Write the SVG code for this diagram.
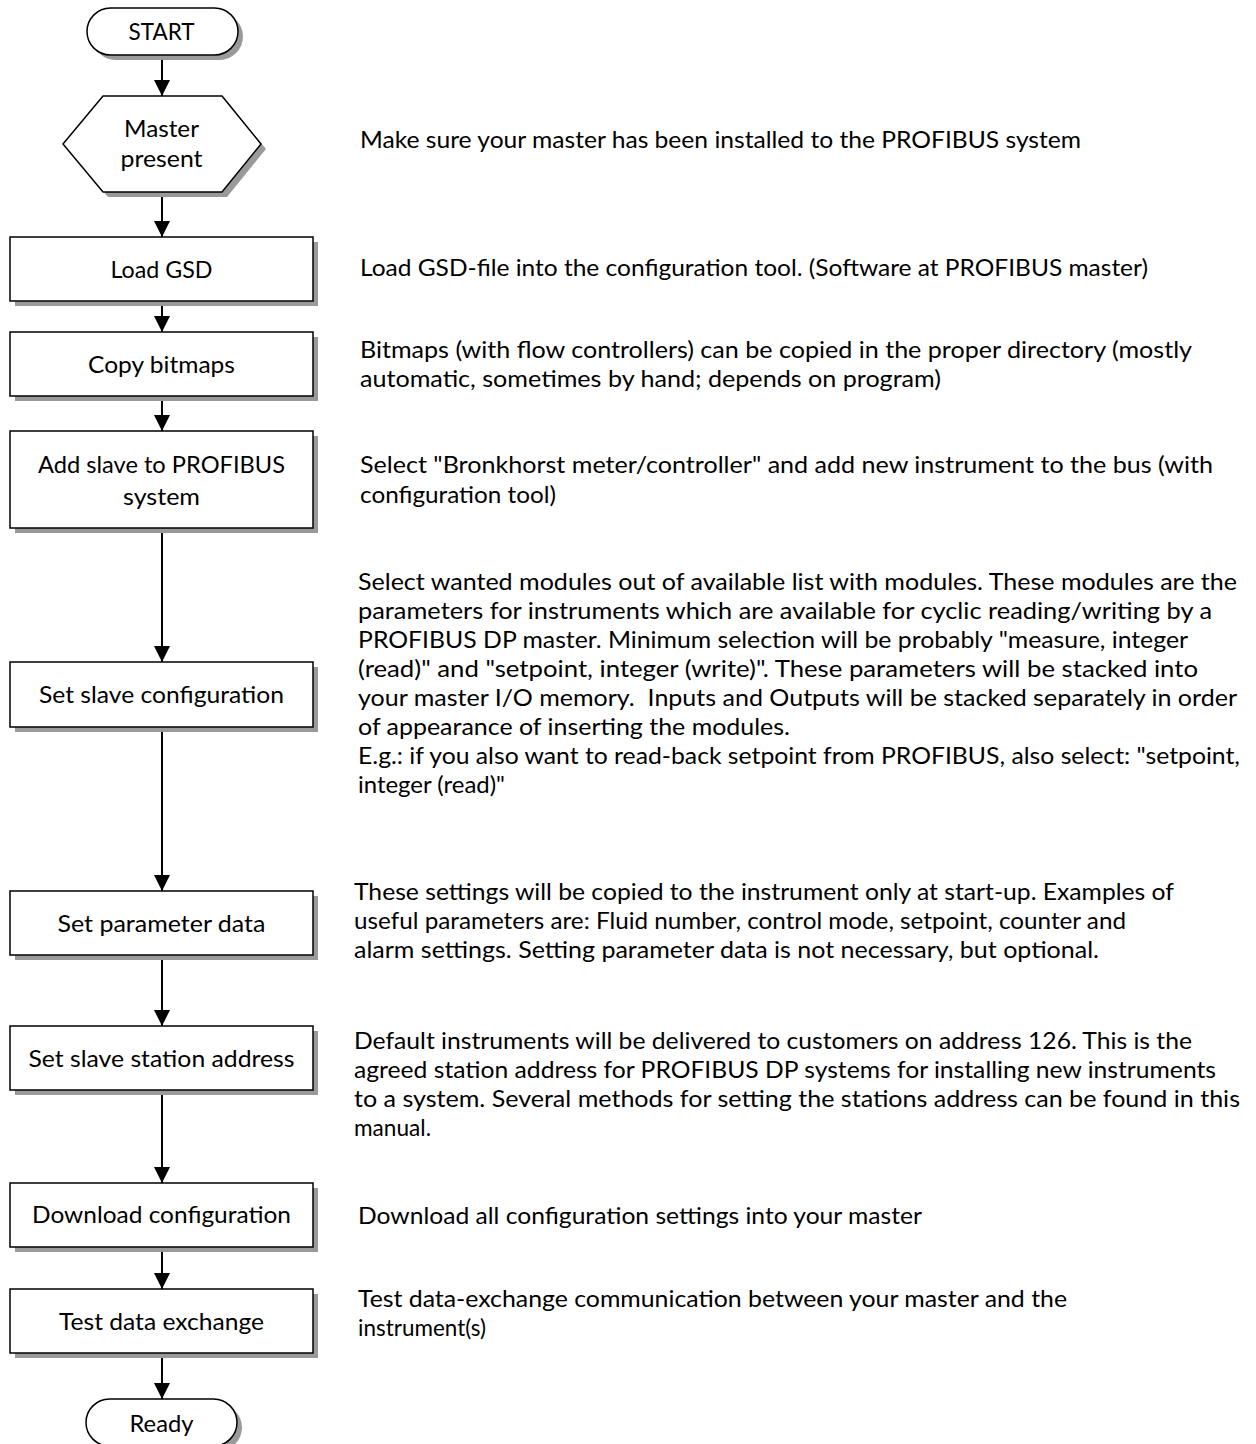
<svg xmlns="http://www.w3.org/2000/svg" width="1256" height="1444" viewBox="0 0 1256 1444">
<style>
.sh{fill:#9a9a9a;stroke:none}
.nd{fill:#ffffff;stroke:#000;stroke-width:1.5}
.lb{font-family:Lato,"Open Sans",sans-serif;font-size:23px;fill:#000;text-anchor:middle}
.tx{font-family:Lato,"Open Sans",sans-serif;font-size:23px;fill:#000}
.cn{stroke:#000;stroke-width:2;fill:none;marker-end:url(#ah)}
</style>
<defs>
<marker id="ah" markerUnits="userSpaceOnUse" markerWidth="16" markerHeight="16" refX="16" refY="8" orient="auto" viewBox="0 0 16 16">
<path d="M0,0 L16,8 L0,16 z" fill="#000"/>
</marker>
</defs>
<rect width="1256" height="1444" fill="#fff"/>
<g id="connectors">
<line class="cn" x1="162" y1="55" x2="162" y2="96"/>
<line class="cn" x1="162" y1="192" x2="162" y2="237"/>
<line class="cn" x1="162" y1="301" x2="162" y2="332"/>
<line class="cn" x1="162" y1="396" x2="162" y2="431"/>
<line class="cn" x1="162" y1="528" x2="162" y2="662"/>
<line class="cn" x1="162" y1="727" x2="162" y2="891"/>
<line class="cn" x1="162" y1="955" x2="162" y2="1026"/>
<line class="cn" x1="162" y1="1090" x2="162" y2="1183"/>
<line class="cn" x1="162" y1="1247" x2="162" y2="1289"/>
<line class="cn" x1="162" y1="1353" x2="162" y2="1399"/>
</g>
<g id="start">
<rect class="sh" x="92" y="13" width="151" height="47" rx="23.5"/>
<rect class="nd" x="87" y="8" width="151" height="47" rx="23.5"/>
<text class="lb" x="161.5" y="40" textLength="66" lengthAdjust="spacingAndGlyphs">START</text>
</g>
<g id="master-present">
<polygon class="sh" points="68,149 108,101 227,101 266,149 227,197 108,197"/>
<polygon class="nd" points="63,144 103,96 222,96 261,144 222,192 103,192"/>
<text class="lb" x="161.5" y="137" textLength="75" lengthAdjust="spacingAndGlyphs">Master</text>
<text class="lb" x="161.5" y="167" textLength="82" lengthAdjust="spacingAndGlyphs">present</text>
</g>
<g id="load-gsd">
<rect class="sh" x="15" y="242" width="303" height="64"/>
<rect class="nd" x="10" y="237" width="303" height="64"/>
<text class="lb" x="161.5" y="278" textLength="102" lengthAdjust="spacingAndGlyphs">Load GSD</text>
</g>
<g id="copy-bitmaps">
<rect class="sh" x="15" y="337" width="303" height="64"/>
<rect class="nd" x="10" y="332" width="303" height="64"/>
<text class="lb" x="161.5" y="373" textLength="147" lengthAdjust="spacingAndGlyphs">Copy bitmaps</text>
</g>
<g id="add-slave">
<rect class="sh" x="15" y="436" width="303" height="97"/>
<rect class="nd" x="10" y="431" width="303" height="97"/>
<text class="lb" x="161.5" y="473" textLength="247" lengthAdjust="spacingAndGlyphs">Add slave to PROFIBUS</text>
<text class="lb" x="161.5" y="505" textLength="77" lengthAdjust="spacingAndGlyphs">system</text>
</g>
<g id="set-slave-config">
<rect class="sh" x="15" y="667" width="303" height="65"/>
<rect class="nd" x="10" y="662" width="303" height="65"/>
<text class="lb" x="161.5" y="703" textLength="245" lengthAdjust="spacingAndGlyphs">Set slave configuration</text>
</g>
<g id="set-param-data">
<rect class="sh" x="15" y="896" width="303" height="64"/>
<rect class="nd" x="10" y="891" width="303" height="64"/>
<text class="lb" x="161.5" y="932" textLength="208" lengthAdjust="spacingAndGlyphs">Set parameter data</text>
</g>
<g id="set-station-address">
<rect class="sh" x="15" y="1031" width="303" height="64"/>
<rect class="nd" x="10" y="1026" width="303" height="64"/>
<text class="lb" x="161.5" y="1067" textLength="266" lengthAdjust="spacingAndGlyphs">Set slave station address</text>
</g>
<g id="download-config">
<rect class="sh" x="15" y="1188" width="303" height="64"/>
<rect class="nd" x="10" y="1183" width="303" height="64"/>
<text class="lb" x="161.5" y="1223" textLength="259" lengthAdjust="spacingAndGlyphs">Download configuration</text>
</g>
<g id="test-data-exchange">
<rect class="sh" x="15" y="1294" width="303" height="64"/>
<rect class="nd" x="10" y="1289" width="303" height="64"/>
<text class="lb" x="161.5" y="1330" textLength="205" lengthAdjust="spacingAndGlyphs">Test data exchange</text>
</g>
<g id="ready">
<rect class="sh" x="91" y="1404" width="151" height="47" rx="23.5"/>
<rect class="nd" x="86" y="1399" width="151" height="47" rx="23.5"/>
<text class="lb" x="161.5" y="1432" textLength="64" lengthAdjust="spacingAndGlyphs">Ready</text>
</g>
<g id="descriptions">
<text class="tx" x="360" y="148" textLength="721" lengthAdjust="spacingAndGlyphs">Make sure your master has been installed to the PROFIBUS system</text>
<text class="tx" x="360" y="276" textLength="788" lengthAdjust="spacingAndGlyphs">Load GSD-file into the configuration tool. (Software at PROFIBUS master)</text>
<text class="tx" x="360" y="358" textLength="832" lengthAdjust="spacingAndGlyphs">Bitmaps (with flow controllers) can be copied in the proper directory (mostly</text>
<text class="tx" x="360" y="387" textLength="581" lengthAdjust="spacingAndGlyphs">automatic, sometimes by hand; depends on program)</text>
<text class="tx" x="360" y="473" textLength="853" lengthAdjust="spacingAndGlyphs">Select "Bronkhorst meter/controller" and add new instrument to the bus (with</text>
<text class="tx" x="360" y="503" textLength="196" lengthAdjust="spacingAndGlyphs">configuration tool)</text>
<text class="tx" x="358" y="590" textLength="879" lengthAdjust="spacingAndGlyphs">Select wanted modules out of available list with modules. These modules are the</text>
<text class="tx" x="358" y="619" textLength="854" lengthAdjust="spacingAndGlyphs">parameters for instruments which are available for cyclic reading/writing by a</text>
<text class="tx" x="358" y="648" textLength="830" lengthAdjust="spacingAndGlyphs">PROFIBUS DP master. Minimum selection will be probably "measure, integer</text>
<text class="tx" x="358" y="677" textLength="840" lengthAdjust="spacingAndGlyphs">(read)" and "setpoint, integer (write)". These parameters will be stacked into</text>
<text class="tx" x="358" y="706" textLength="879" lengthAdjust="spacingAndGlyphs" xml:space="preserve">your master I/O memory.  Inputs and Outputs will be stacked separately in order</text>
<text class="tx" x="358" y="735" textLength="432" lengthAdjust="spacingAndGlyphs">of appearance of inserting the modules.</text>
<text class="tx" x="358" y="764" textLength="882" lengthAdjust="spacingAndGlyphs">E.g.: if you also want to read-back setpoint from PROFIBUS, also select: "setpoint,</text>
<text class="tx" x="358" y="793" textLength="147" lengthAdjust="spacingAndGlyphs">integer (read)"</text>
<text class="tx" x="354" y="900" textLength="820" lengthAdjust="spacingAndGlyphs">These settings will be copied to the instrument only at start-up. Examples of</text>
<text class="tx" x="354" y="929" textLength="772" lengthAdjust="spacingAndGlyphs">useful parameters are: Fluid number, control mode, setpoint, counter and</text>
<text class="tx" x="354" y="958" textLength="745" lengthAdjust="spacingAndGlyphs">alarm settings. Setting parameter data is not necessary, but optional.</text>
<text class="tx" x="354" y="1049" textLength="838" lengthAdjust="spacingAndGlyphs">Default instruments will be delivered to customers on address 126. This is the</text>
<text class="tx" x="354" y="1078" textLength="862" lengthAdjust="spacingAndGlyphs">agreed station address for PROFIBUS DP systems for installing new instruments</text>
<text class="tx" x="354" y="1107" textLength="886" lengthAdjust="spacingAndGlyphs">to a system. Several methods for setting the stations address can be found in this</text>
<text class="tx" x="354" y="1136" textLength="77" lengthAdjust="spacingAndGlyphs">manual.</text>
<text class="tx" x="358" y="1224" textLength="564" lengthAdjust="spacingAndGlyphs">Download all configuration settings into your master</text>
<text class="tx" x="358" y="1307" textLength="709" lengthAdjust="spacingAndGlyphs">Test data-exchange communication between your master and the</text>
<text class="tx" x="358" y="1336" textLength="128" lengthAdjust="spacingAndGlyphs">instrument(s)</text>
</g>
</svg>
